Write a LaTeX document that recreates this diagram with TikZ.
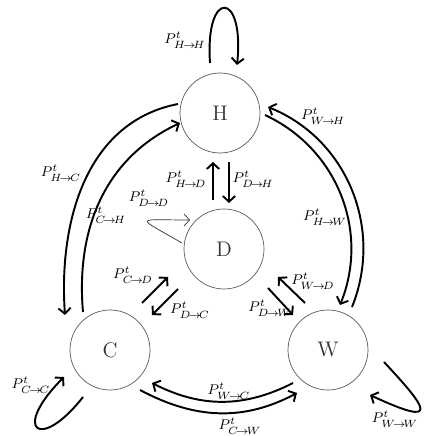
\documentclass[tikz,border=0pt]{standalone}
\usepackage{amsmath}
\usetikzlibrary{arrows.meta,calc}
\begin{document}
\begin{tikzpicture}[>={Straight Barb[length=3.2pt,width=7pt]}, x=0.02cm, y=0.02cm,
  state/.style={circle,draw=black!65,minimum size=1.6cm,text=black!80,font=\large},
  trans/.style={->,line width=1.1pt},
  prob/.style={font=\footnotesize,inner sep=1pt}]
  \useasboundingbox (0,0) rectangle (425,436);
  \node[state] (H) at (220,323) {H};
  \node[state] (D) at (224,187) {D};
  \node[state] (C) at (110,86) {C};
  \node[state] (W) at (328,86) {W};
  % self loops
  \draw[trans] ($(H)+(-10,50)$) to[out=94,in=84,out distance=1.5cm,in distance=1.5cm] ($(H)+(17,48)$);
  \draw[trans] ($(C)+(-27,-47)$) to[out=232,in=225,out distance=1.4cm,in distance=1.5cm] ($(C)+(-46,-27)$);
  \draw[trans] ($(W)+(56,-12)$) to[out=-47,in=-25,out distance=1.25cm,in distance=1.6cm] ($(W)+(42,-45)$);
  \draw[->,thin,black!80] ($(D)+(-42,6)$) to[out=150,in=180,out distance=1.1cm,in distance=1.1cm] ($(D)+(-34,29)$);
  % outer arcs
  \draw[trans] ($(H)+(-42,9)$) to[out=191,in=94] ($(C)+(-45,35)$);
  \draw[trans] ($(C)+(-27,38)$) to[out=95,in=205] ($(H)+(-40,-10)$);
  \draw[trans] ($(W)+(24,43)$) to[out=68,in=-22] ($(H)+(48,6)$);
  \draw[trans] ($(H)+(45,-2)$) to[out=-25,in=68] ($(W)+(12,45)$);
  \draw[trans] ($(W)+(-35,-33)$) to[out=207,in=-27] ($(C)+(42,-33)$);
  \draw[trans] ($(C)+(30,-40)$) to[out=-28,in=208] ($(W)+(-31,-43)$);
  % to and from D
  \draw[trans] ($(D)+(-11,49)$) -- ($(H)+(-7,-49)$);
  \draw[trans] ($(H)+(9,-49)$) -- ($(D)+(5,46)$);
  \draw[trans] ($(C)+(32,47)$) -- ($(D)+(-56,-28)$);
  \draw[trans] ($(D)+(-46,-40)$) -- ($(C)+(42,35)$);
  \draw[trans] ($(W)+(-23,47)$) -- ($(D)+(54,-28)$);
  \draw[trans] ($(D)+(44,-39)$) -- ($(W)+(-35,35)$);
  % labels
  \node[prob] (lHH) at (185,396) {$P^{t}_{H\!\to\! H}$};
  \node[prob] (lHC) at (61,263) {$P^{t}_{H\!\to\! C}$};
  \node[prob] (lCH) at (106,221) {$P^{t}_{C\!\to\! H}$};
  \node[prob] (lDD) at (149,238) {$P^{t}_{D\!\to\! D}$};
  \node[prob] (lHD) at (186,257) {$P^{t}_{H\!\to\! D}$};
  \node[prob] (lDH) at (253,257) {$P^{t}_{D\!\to\! H}$};
  \node[prob] (lWH) at (323,320) {$P^{t}_{W\!\to\! H}$};
  \node[prob] (lHW) at (325,219) {$P^{t}_{H\!\to\! W}$};
  \node[prob] (lCD) at (133,161) {$P^{t}_{C\!\to\! D}$};
  \node[prob] (lDC) at (190,126) {$P^{t}_{D\!\to\! C}$};
  \node[prob] (lWD) at (313,155) {$P^{t}_{W\!\to\! D}$};
  \node[prob] (lDW) at (270,128) {$P^{t}_{D\!\to\! W}$};
  \node[prob] (lCC) at (31,51) {$P^{t}_{C\!\to\! C}$};
  \node[prob] (lWC) at (229,45) {$P^{t}_{W\!\to\! C}$};
  \node[prob] (lCW) at (240,10) {$P^{t}_{C\!\to\! W}$};
  \node[prob] (lWW) at (395,17) {$P^{t}_{W\!\to\! W}$};
\end{tikzpicture}
\end{document}
